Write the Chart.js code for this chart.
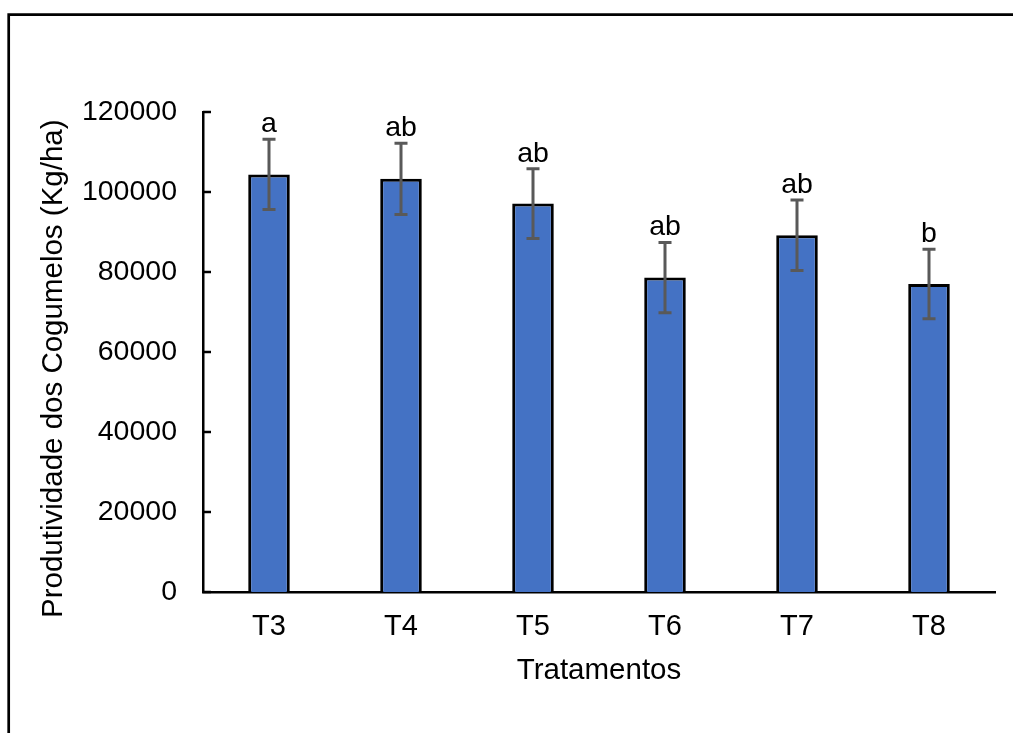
<!DOCTYPE html>
<html>
<head>
<meta charset="utf-8">
<script src="https://cdn.jsdelivr.net/npm/chart.js@4/dist/chart.umd.min.js"></script>
<style>
  html, body { margin: 0; padding: 0; background: #ffffff; }
  #wrap { width: 1013px; height: 733px; position: relative; }
</style>
</head>
<body>
<div id="wrap"><canvas id="chart" width="1013" height="733"></canvas></div>
<script>
// Mushroom yield per treatment (kg/ha), with error bars and significance letters
const categories = ['T3', 'T4', 'T5', 'T6', 'T7', 'T8'];
const yieldMeans = [104400, 103300, 97100, 78600, 89200, 77000];
const yieldErrors = [8800, 8900, 8700, 8800, 8800, 8700];
const groupLetters = ['a', 'ab', 'ab', 'ab', 'ab', 'b'];
const yTicks = [0, 20000, 40000, 60000, 80000, 100000, 120000];

const FONT = '"Liberation Sans", Arial, sans-serif';

// Outer frame (top and left edges only) and white background
const framePlugin = {
  id: 'frame',
  beforeDraw(chart) {
    const ctx = chart.ctx;
    ctx.save();
    ctx.fillStyle = '#ffffff';
    ctx.fillRect(0, 0, chart.width, chart.height);
    ctx.strokeStyle = '#000000';
    ctx.lineWidth = 2.7;
    ctx.beginPath();
    ctx.moveTo(8.7, chart.height);
    ctx.lineTo(8.7, 14.7);
    ctx.lineTo(chart.width, 14.7);
    ctx.stroke();
    ctx.restore();
  }
};

// Inward tick marks on the value axis, error bars, letters and the rotated axis title
const extrasPlugin = {
  id: 'extras',
  afterDatasetsDraw(chart) {
    const ctx = chart.ctx;
    const y = chart.scales.y;
    const meta = chart.getDatasetMeta(0);
    ctx.save();
    ctx.strokeStyle = '#595959';
    ctx.lineWidth = 3;
    meta.data.forEach((bar, i) => {
      const top = y.getPixelForValue(yieldMeans[i] + yieldErrors[i]);
      const bot = y.getPixelForValue(yieldMeans[i] - yieldErrors[i]);
      const cap = 6.5;
      ctx.beginPath();
      ctx.moveTo(bar.x, top);
      ctx.lineTo(bar.x, bot);
      ctx.moveTo(bar.x - cap, top);
      ctx.lineTo(bar.x + cap, top);
      ctx.moveTo(bar.x - cap, bot);
      ctx.lineTo(bar.x + cap, bot);
      ctx.stroke();
      // letter above the error bar
      ctx.fillStyle = '#000000';
      ctx.font = '28.5px ' + FONT;
      ctx.textAlign = 'center';
      ctx.textBaseline = 'alphabetic';
      ctx.fillText(groupLetters[i], bar.x, top - 7);
    });
    ctx.restore();
  },
  afterDraw(chart) {
    const ctx = chart.ctx;
    const y = chart.scales.y;
    ctx.save();
    ctx.strokeStyle = '#000000';
    ctx.lineWidth = 2.5;
    yTicks.forEach(v => {
      const py = y.getPixelForValue(v);
      ctx.beginPath();
      ctx.moveTo(y.right, py);
      ctx.lineTo(y.right + 8, py);
      ctx.stroke();
    });
    // value axis title
    ctx.translate(53.5, 368.7);
    ctx.rotate(-Math.PI / 2);
    ctx.fillStyle = '#000000';
    ctx.font = '29.5px ' + FONT;
    ctx.textAlign = 'center';
    ctx.textBaseline = 'middle';
    ctx.fillText('Produtividade dos Cogumelos (Kg/ha)', 0, 0);
    ctx.restore();
  }
};

new Chart(document.getElementById('chart'), {
  type: 'bar',
  data: {
    labels: categories,
    datasets: [{
      data: yieldMeans,
      backgroundColor: '#4472C4',
      borderColor: '#000000',
      borderWidth: 3,
      barPercentage: 0.315,
      categoryPercentage: 1.0
    }]
  },
  options: {
    responsive: false,
    animation: false,
    devicePixelRatio: 1,
    layout: { padding: { top: 112, right: 18, left: 0, bottom: 0 } },
    plugins: {
      legend: { display: false },
      tooltip: { enabled: false }
    },
    scales: {
      x: {
        grid: { display: false, drawTicks: false },
        border: { display: true, color: '#000000', width: 2.5 },
        ticks: {
          color: '#000000',
          font: { family: FONT, size: 29 },
          padding: 18
        },
        title: {
          display: true,
          text: 'Tratamentos',
          color: '#000000',
          font: { family: FONT, size: 29.5 },
          padding: { top: 0, bottom: 44 }
        },
        afterFit(scale) { scale.height = 141; }
      },
      y: {
        min: 0,
        max: 120000,
        afterBuildTicks(scale) { scale.ticks = yTicks.map(v => ({ value: v })); },
        grid: { display: false, drawTicks: false },
        border: { display: true, color: '#000000', width: 2.5 },
        ticks: {
          color: '#000000',
          font: { family: FONT, size: 28.5 },
          padding: 26,
          callback: v => String(v)
        },
        afterFit(scale) { scale.width = 203; }
      }
    }
  },
  plugins: [framePlugin, extrasPlugin]
});
</script>
</body>
</html>
